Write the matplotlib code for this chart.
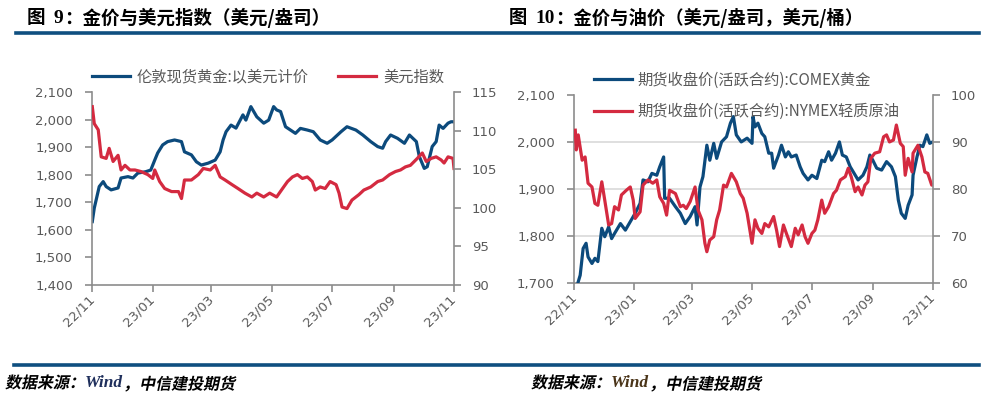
import numpy as np
import pandas as pd
import matplotlib
matplotlib.use("Agg")
import matplotlib.pyplot as plt
import matplotlib.dates as mdates
from matplotlib.lines import Line2D
from matplotlib.ticker import FuncFormatter, FixedLocator
from matplotlib.transforms import Affine2D
from matplotlib.patheffects import AbstractPathEffect

# ---------------- data ----------------
BASE_DATE = "2022-11-01"

# Fig 9: London spot gold (USD/oz) and US dollar index
gold_spot_days = [0, 2, 7, 11, 14, 19, 26, 29, 36, 41, 46, 54, 59, 63, 66, 71, 76, 83, 90, 93,
                  100, 105, 110, 117, 124, 129, 132, 135, 140, 145, 152, 155, 160, 166, 173, 178, 183, 186, 190, 195,
                  200, 205, 210, 217, 223, 230, 237, 242, 251, 257, 266, 273, 281, 288, 293, 296, 301, 308, 315, 320,
                  327, 330, 335, 338, 343, 347, 350, 354, 359, 362, 365]
gold_spot = [1630, 1679, 1757, 1775, 1757, 1745, 1752, 1788, 1793, 1788, 1806, 1811, 1817, 1853, 1879, 1908, 1920, 1926, 1920, 1883,
             1872, 1847, 1835, 1842, 1853, 1883, 1926, 1956, 1980, 1969, 2017, 1998, 2047, 2010, 1987, 1998, 2047, 2035, 2029, 1974,
             1962, 1950, 1968, 1962, 1956, 1926, 1914, 1926, 1956, 1974, 1962, 1944, 1920, 1902, 1896, 1920, 1944, 1932, 1914, 1944,
             1920, 1866, 1823, 1829, 1902, 1920, 1980, 1968, 1987, 1992, 1992]

dxy_days = [0, 2, 6, 9, 14, 17, 21, 26, 29, 33, 38, 43, 49, 56, 61, 63, 68, 73, 80, 87,
            90, 93, 100, 107, 112, 119, 124, 129, 134, 141, 147, 154, 161, 166, 173, 179, 186, 192, 197, 202,
            207, 212, 217, 222, 225, 230, 235, 240, 246, 249, 252, 257, 262, 269, 274, 281, 288, 293, 300, 306,
            311, 316, 321, 328, 333, 337, 342, 347, 352, 355, 359, 364, 365]
dxy = [113.1, 110.9, 110.1, 106.6, 106.4, 107.7, 106.0, 106.8, 104.9, 105.5, 104.9, 104.9, 104.7, 104.3, 103.8, 104.9, 103.4, 102.5, 102.1, 102.1,
       101.2, 103.6, 103.6, 104.3, 105.1, 104.9, 105.5, 104.0, 103.6, 103.0, 102.5, 101.9, 101.4, 101.9, 101.4, 101.9, 101.4, 102.5, 103.4, 104.0,
       104.3, 103.8, 104.0, 103.4, 102.3, 102.7, 102.5, 103.4, 103.0, 101.9, 100.1, 99.9, 101.0, 101.7, 102.3, 102.7, 103.4, 103.6, 104.3, 104.7,
       104.9, 105.3, 105.5, 106.4, 107.1, 106.0, 106.4, 106.6, 106.2, 105.8, 106.6, 106.4, 105.1]

# Fig 10: COMEX gold futures and NYMEX WTI futures
comex_days = [4, 6, 9, 12, 14, 18, 21, 24, 28, 31, 35, 38, 41, 47, 52, 57, 62, 67, 70, 75,
              79, 84, 87, 91, 92, 97, 103, 108, 113, 118, 123, 125, 128, 131, 135, 138, 142, 145, 150, 155,
              159, 162, 165, 170, 176, 181, 182, 184, 187, 191, 194, 198, 201, 203, 208, 211, 215, 218, 221, 226,
              230, 233, 238, 242, 247, 252, 255, 259, 262, 266, 270, 273, 277, 281, 285, 289, 294, 298, 301, 304,
              308, 313, 318, 323, 327, 330, 333, 337, 340, 344, 345, 349, 352, 355, 359, 362, 365]
comex_gold = [1702, 1716, 1773, 1784, 1755, 1741, 1752, 1745, 1816, 1798, 1819, 1794, 1805, 1826, 1812, 1830, 1848, 1869, 1919, 1915,
              1933, 1929, 1947, 1968, 1880, 1880, 1862, 1848, 1826, 1841, 1862, 1823, 1904, 1926, 1993, 1961, 1997, 1965, 2000, 2011,
              2040, 2054, 2015, 2000, 2008, 1997, 2054, 2032, 2040, 2018, 2011, 1976, 1976, 1944, 1972, 1993, 1968, 1979, 1968, 1972,
              1947, 1933, 1919, 1929, 1922, 1961, 1958, 1979, 1961, 1976, 2000, 1972, 1968, 1947, 1933, 1919, 1929, 1947, 1972, 1961,
              1944, 1940, 1958, 1947, 1926, 1876, 1848, 1837, 1865, 1887, 1929, 1968, 1993, 1990, 2015, 1997, 2000]

wti_days = [1, 2, 4, 8, 11, 14, 18, 21, 24, 28, 31, 35, 38, 41, 45, 48, 53, 57, 60, 62,
            67, 70, 75, 80, 84, 87, 91, 94, 97, 103, 108, 111, 114, 118, 123, 126, 130, 133, 135, 138,
            142, 145, 148, 152, 155, 160, 165, 169, 172, 176, 181, 184, 187, 191, 194, 198, 203, 206, 209, 213,
            216, 221, 225, 228, 232, 235, 238, 242, 245, 248, 252, 255, 259, 264, 267, 271, 276, 279, 282, 286,
            289, 293, 296, 299, 302, 306, 311, 315, 318, 321, 325, 328, 332, 335, 337, 340, 344, 345, 350, 354,
            357, 360, 364, 365]
wti = [92.5, 88.3, 91.5, 86.1, 86.8, 81.2, 80.4, 76.9, 76.5, 81.5, 77.6, 72.3, 72.6, 76.2, 75.5, 78.7, 79.7, 80.4, 77.6, 73.7,
       75.1, 80.8, 81.9, 81.2, 81.9, 78.3, 76.9, 74.4, 79.7, 79.0, 76.2, 76.5, 75.8, 77.3, 80.4, 75.5, 73.4, 68.4, 66.6, 69.1,
       69.8, 73.4, 75.5, 80.8, 80.4, 83.3, 81.5, 79.0, 78.0, 74.8, 68.4, 73.4, 71.6, 70.5, 72.6, 71.9, 74.1, 71.2, 67.7, 72.3,
       70.5, 67.7, 71.6, 70.2, 72.3, 69.8, 68.4, 70.5, 71.2, 73.4, 77.6, 74.8, 76.2, 79.0, 79.7, 81.9, 82.6, 84.4, 82.6, 79.4,
       80.4, 78.7, 80.8, 81.5, 86.5, 87.6, 87.9, 91.1, 91.5, 90.0, 90.4, 93.6, 89.7, 89.0, 82.9, 86.5, 83.6, 87.6, 89.3, 86.8,
       83.6, 83.3, 80.8, 80.8]

x_tick_dates = ["2022-11-01", "2023-01-01", "2023-03-01", "2023-05-01", "2023-07-01", "2023-09-01", "2023-11-01"]
gold_l_ticks = [1400, 1500, 1600, 1700, 1800, 1900, 2000, 2100]
dxy_ticks = [90, 95, 100, 105, 110, 115]
gold_r_ticks = [1700, 1800, 1900, 2000, 2100]
wti_ticks = [60, 70, 80, 90, 100]

title_left = ("图 ", "9", "：金价与美元指数（美元/盎司）")
title_right = ("图 ", "10", "：金价与油价（美元/盎司，美元/桶）")
legend_left = ["伦敦现货黄金:以美元计价", "美元指数"]
legend_right = ["期货收盘价(活跃合约):COMEX黄金", "期货收盘价(活跃合约):NYMEX轻质原油"]
source_parts = ("数据来源：", "Wind", "，中信建投期货")

# ---------------- style ----------------
BLUE = "#0C4A7C"
RED = "#D42A40"
NAVY = "#0F4F80"
AX_GRAY = "#8C8C8C"
TXT_GRAY = "#595959"
CJK = ["Noto Sans CJK SC", "DejaVu Sans"]

plt.rcParams["font.family"] = ["DejaVu Sans", "Noto Sans CJK SC"]

W, H = 992, 398
fig = plt.figure(figsize=(W / 100, H / 100), dpi=100)


class Oblique(AbstractPathEffect):
    """Slant glyph outlines about their baseline (fake italic)."""

    def __init__(self, angle=12):
        super().__init__()
        self._skew = Affine2D().skew_deg(angle, 0)

    def draw_path(self, renderer, gc, tpath, affine, rgbFace=None):
        renderer.draw_path(gc, tpath, self._skew + affine, rgbFace)


def to_dates(days):
    return pd.Timestamp(BASE_DATE) + pd.to_timedelta(np.asarray(days), unit="D")


def px_rect(x0, x1, ytop, ybot):
    return [x0 / W, 1 - ybot / H, (x1 - x0) / W, (ybot - ytop) / H]


def style_pair(ax, axr, lticks, rticks, lfmt):
    xt = pd.to_datetime(x_tick_dates)
    ax.set_xlim(xt[0], xt[-1])
    ax.xaxis.set_major_locator(FixedLocator(mdates.date2num(xt)))
    ax.xaxis.set_major_formatter(mdates.DateFormatter("%y/%m"))
    ax.set_ylim(lticks[0], lticks[-1])
    axr.set_ylim(rticks[0], rticks[-1])
    ax.set_yticks(lticks)
    axr.set_yticks(rticks)
    ax.yaxis.set_major_formatter(FuncFormatter(lfmt))
    axr.yaxis.set_major_formatter(FuncFormatter(lambda v, p: f"{v:.0f}"))
    for a in (ax, axr):
        for s in a.spines.values():
            s.set_color(AX_GRAY)
            s.set_linewidth(1.2)
        a.spines["top"].set_visible(False)
    ax.spines["right"].set_visible(False)
    axr.spines["left"].set_visible(False)
    axr.spines["bottom"].set_visible(False)
    ax.tick_params(axis="y", direction="out", length=5, width=1.2, color=AX_GRAY,
                   labelcolor=TXT_GRAY, labelsize=9.5, pad=9)
    axr.tick_params(axis="y", direction="out", length=5, width=1.2, color=AX_GRAY,
                    labelcolor=TXT_GRAY, labelsize=9.5, pad=8)
    ax.tick_params(axis="x", direction="out", length=5, width=1.2, color=AX_GRAY,
                   labelcolor=TXT_GRAY, labelsize=9.5, pad=4)
    for lab in ax.get_xticklabels():
        lab.set_rotation(45)
        lab.set_ha("right")
        lab.set_va("center")
        lab.set_rotation_mode("anchor")


# ---------------- left chart ----------------
ax1 = fig.add_axes(px_rect(92.3, 454, 92, 285))
ax1r = ax1.twinx()
style_pair(ax1, ax1r, gold_l_ticks, dxy_ticks, lambda v, p: f"{v:,.0f}")
l1, = ax1.plot(to_dates(gold_spot_days), gold_spot, color=BLUE, lw=2.3, solid_joinstyle="round")
l2, = ax1r.plot(to_dates(dxy_days), dxy, color=RED, lw=2.3, solid_joinstyle="round")
ax1.set_zorder(ax1r.get_zorder() - 1)
ax1r.patch.set_visible(False)

fig.legend([l1, l2], legend_left, loc="center left", bbox_to_anchor=(92 / W, 1 - 77 / H),
           ncol=2, frameon=False, handlelength=2.5, handletextpad=0.45, columnspacing=1.9,
           borderpad=0, borderaxespad=0, prop={"family": CJK, "size": 11}, labelcolor=TXT_GRAY)

# ---------------- right chart ----------------
ax2 = fig.add_axes(px_rect(574.3, 932.7, 95, 282.7))
ax2r = ax2.twinx()
style_pair(ax2, ax2r, gold_r_ticks, wti_ticks, lambda v, p: f"{v:,.0f}")
for v in gold_r_ticks[1:-1]:
    ax2.axhline(v, color="#D9D9D9", lw=1.2, zorder=0)
l3, = ax2.plot(to_dates(comex_days), comex_gold, color=BLUE, lw=2.3, solid_joinstyle="round", zorder=3)
l4, = ax2r.plot(to_dates(wti_days), wti, color=RED, lw=2.3, solid_joinstyle="round")
ax2.set_zorder(ax2r.get_zorder() - 1)
ax2r.patch.set_visible(False)

fig.legend([l3, l4], legend_right, loc="center left", bbox_to_anchor=(594 / W, 1 - 96 / H),
           ncol=1, frameon=False, handlelength=2.5, handletextpad=0.35, labelspacing=0.95,
           borderpad=0, borderaxespad=0, prop={"family": CJK, "size": 11}, labelcolor=TXT_GRAY)

# ---------------- decorations ----------------
bg = fig.add_axes([0, 0, 1, 1], zorder=-10)
bg.set_xlim(0, W)
bg.set_ylim(H, 0)
bg.axis("off")

bg.add_line(Line2D([16, 979], [33, 33], color=NAVY, lw=2.6))
bg.add_line(Line2D([14, 979], [364.5, 364.5], color=NAVY, lw=2.6))


def title(x, parts, size):
    t1 = bg.text(x, 23, parts[0] + " ", family=CJK, fontsize=size, fontweight="bold",
                 color="black", ha="left", va="baseline")
    t2 = bg.annotate(parts[1], xy=(1, 0), xycoords=t1, xytext=(0, 0), textcoords="offset points",
                     family="Liberation Serif", fontweight="bold", fontsize=size + 0.7,
                     color="black", ha="left", va="bottom")
    bg.annotate(parts[2], xy=(1, 0), xycoords=t2, xytext=(0, -1), textcoords="offset points",
                family=CJK, fontsize=size, fontweight="bold", color="black", ha="left", va="bottom")


title(27, title_left, 13.3)
title(509, title_right, 13.2)


def source_line(x, wind_color):
    ob = [Oblique(12)]
    t1 = bg.text(x, 388, source_parts[0], family=CJK, fontsize=11.5, fontweight="bold",
                 color="black", ha="left", va="baseline", path_effects=ob)
    t2 = bg.annotate(source_parts[1], xy=(1, 0), xycoords=t1, xytext=(0, 0), textcoords="offset points",
                     family="Liberation Serif", style="italic", fontweight="bold", fontsize=12.5,
                     color=wind_color, ha="left", va="bottom")
    bg.annotate(source_parts[2], xy=(1, 0), xycoords=t2, xytext=(0, -1), textcoords="offset points",
                family=CJK, fontsize=11.5, fontweight="bold", color="black", ha="left", va="bottom",
                path_effects=ob)


source_line(5, "#1F2F5C")
source_line(531, "#4A3418")

fig.savefig("out.png", dpi=100)
